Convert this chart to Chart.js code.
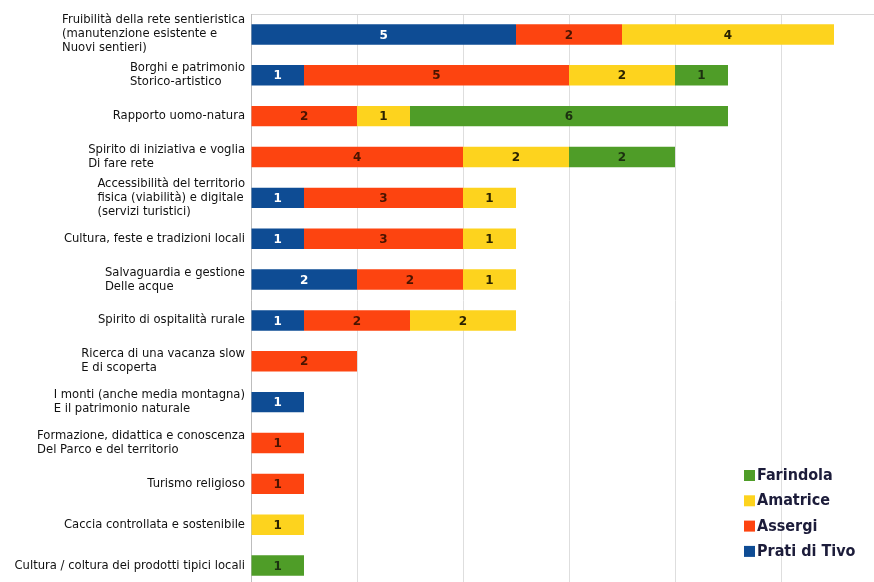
<!DOCTYPE html>
<html>
<head>
<meta charset="utf-8">
<script src="https://cdn.jsdelivr.net/npm/chart.js@4/dist/chart.umd.min.js"></script>
<style>
    html, body { margin: 0; padding: 0; background: #fff; overflow: hidden; }
    #wrap { width: 888px; height: 586px; }
</style>
</head>
<body>
<div id="wrap"><canvas id="temiChart" width="888" height="586"></canvas></div>
<script>
const categories = [
    ['Fruibilità della rete sentieristica', '(manutenzione esistente e', 'Nuovi sentieri)'],
    ['Borghi e patrimonio', 'Storico-artistico'],
    ['Rapporto uomo-natura'],
    ['Spirito di iniziativa e voglia', 'Di fare rete'],
    ['Accessibilità del territorio', 'fisica (viabilità) e digitale', '(servizi turistici)'],
    ['Cultura, feste e tradizioni locali'],
    ['Salvaguardia e gestione', 'Delle acque'],
    ['Spirito di ospitalità rurale'],
    ['Ricerca di una vacanza slow', 'E di scoperta'],
    ['I monti (anche media montagna)', 'E il patrimonio naturale'],
    ['Formazione, didattica e conoscenza', 'Del Parco e del territorio'],
    ['Turismo religioso'],
    ['Caccia controllata e sostenibile'],
    ['Cultura / coltura dei prodotti tipici locali']
];

const pratiDiTivo = [5, 1, 0, 0, 1, 1, 2, 1, 0, 1, 0, 0, 0, 0];
const assergi     = [2, 5, 2, 4, 3, 3, 2, 2, 2, 0, 1, 1, 0, 0];
const amatrice    = [4, 2, 1, 2, 1, 1, 1, 2, 0, 0, 0, 0, 1, 0];
const farindola   = [0, 1, 6, 2, 0, 0, 0, 0, 0, 0, 0, 0, 0, 1];

const xTicks = [0, 2, 4, 6, 8, 10, 12];

// numbers in the middle of every segment
const segmentLabels = {
    id: 'segmentLabels',
    afterDatasetsDraw(chart) {
        const ctx = chart.ctx;
        ctx.save();
        ctx.font = 'bold 12px "DejaVu Sans", sans-serif';
        ctx.textAlign = 'center';
        ctx.textBaseline = 'middle';
        chart.data.datasets.forEach((ds, i) => {
            const meta = chart.getDatasetMeta(i);
            meta.data.forEach((bar, j) => {
                const v = ds.data[j];
                if (!v) return;
                const p = bar.getCenterPoint();
                ctx.fillStyle = ds.labelColor;
                ctx.fillText(v, p.x, p.y + 1);
            });
        });
        ctx.restore();
    }
};

// category names: block sits against the axis, lines left aligned inside it
const categoryLabels = {
    id: 'categoryLabels',
    afterDraw(chart) {
        const ctx = chart.ctx;
        const y = chart.scales.y;
        const right = chart.chartArea.left - 6;
        const lh = 14;
        ctx.save();
        ctx.font = '11.6px "DejaVu Sans", sans-serif';
        ctx.fillStyle = '#111111';
        ctx.textAlign = 'left';
        ctx.textBaseline = 'middle';
        categories.forEach((lines, i) => {
            const w = Math.max(...lines.map(l => ctx.measureText(l).width));
            const x0 = right - w;
            const cy = y.getPixelForTick(i);
            const top = cy - (lines.length - 1) * lh / 2;
            lines.forEach((l, k) => ctx.fillText(l, x0, top + k * lh));
        });
        ctx.restore();
    }
};

// legend box inside the plot, bottom right, last series first
const cornerLegend = {
    id: 'cornerLegend',
    afterDraw(chart) {
        const ctx = chart.ctx;
        ctx.save();
        ctx.font = 'bold 16px "DejaVu Sans Condensed", "DejaVu Sans", sans-serif';
        ctx.textBaseline = 'middle';
        ctx.textAlign = 'left';
        const items = chart.data.datasets.slice().reverse();
        items.forEach((ds, k) => {
            const cy = 475 + k * 25.3;
            ctx.fillStyle = ds.backgroundColor;
            ctx.fillRect(744, cy - 5, 11, 11);
            ctx.fillStyle = '#1c1c3a';
            ctx.fillText(ds.label, 757, cy + 1);
        });
        ctx.restore();
    }
};

const ctx = document.getElementById('temiChart').getContext('2d');
const temiChart = new Chart(ctx, {
    type: 'bar',
    data: {
        labels: categories.map(c => c.join(' ')),
        datasets: [
            { label: 'Prati di Tivo', data: pratiDiTivo, backgroundColor: '#0e4c94', labelColor: '#ffffff' },
            { label: 'Assergi', data: assergi, backgroundColor: '#fd4410', labelColor: '#4a1400' },
            { label: 'Amatrice', data: amatrice, backgroundColor: '#fdd31e', labelColor: '#2a2200' },
            { label: 'Farindola', data: farindola, backgroundColor: '#4f9d28', labelColor: '#1c3010' }
        ]
    },
    options: {
        indexAxis: 'y',
        responsive: false,
        animation: false,
        layout: { padding: { top: 14, right: 1, bottom: 0, left: 0 } },
        datasets: {
            bar: { barPercentage: 0.5, categoryPercentage: 1, borderWidth: 0 }
        },
        plugins: {
            legend: { display: false },
            tooltip: { enabled: false }
        },
        scales: {
            x: {
                position: 'top',
                stacked: true,
                min: 0,
                max: 12,
                afterBuildTicks: axis => { axis.ticks = xTicks.map(v => ({ value: v })); },
                afterFit: axis => { axis.height = 0; },
                ticks: { display: false },
                grid: { color: '#dedede', drawTicks: false },
                border: { display: true, color: '#d6d6d6' }
            },
            y: {
                stacked: true,
                afterFit: axis => { axis.width = 251; },
                ticks: { display: false },
                grid: { display: false, drawTicks: false },
                border: { display: true, color: '#bdbdbd' }
            }
        }
    },
    plugins: [segmentLabels, categoryLabels, cornerLegend]
});
</script>
</body>
</html>
